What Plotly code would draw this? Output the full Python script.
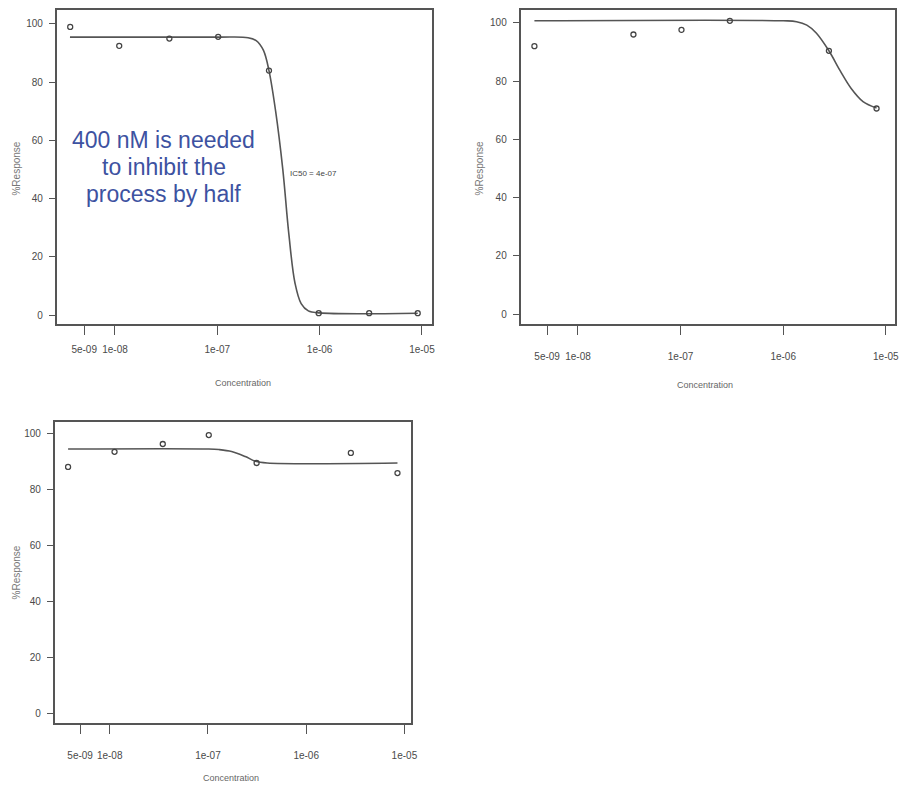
import plotly.graph_objects as go

# page body has an 8px margin; size the figure so the page does not scroll
OFF = 8
FW, FH = 912 - 2 * OFF, 792 - 2 * OFF

# ---- data ----
tick_vals = [5e-9, 1e-8, 1e-7, 1e-6, 1e-5]
tick_text = ["5e-09", "1e-08", "1e-07", "1e-06", "1e-05"]
y_ticks = [0, 20, 40, 60, 80, 100]

# panel 1
p1_conc = [3.65e-9, 1.1e-8, 3.4e-8, 1.02e-7, 3.2e-7, 9.8e-7, 3.05e-6, 9.1e-6]
p1_resp = [99, 92.5, 95, 95.6, 84, 0.7, 0.7, 0.7]
p1_curve_conc = [3.63e-9, 1e-7, 2.0e-7, 2.4e-7, 2.82e-7, 3.2e-7, 3.72e-7, 4.37e-7,
                 5.0e-7, 5.75e-7, 6.6e-7, 7.76e-7, 1e-6, 9.1e-6]
p1_curve_resp = [95.5, 95.5, 95.3, 94.3, 91, 84, 70, 50, 28, 11, 4, 1.5, 0.8, 0.7]

# panel 2
p2_conc = [3.76e-9, 3.47e-8, 1.02e-7, 3.02e-7, 2.79e-6, 8.13e-6]
p2_resp = [92, 96, 97.6, 100.7, 90.4, 70.6]
p2_curve_conc = [3.76e-9, 1e-6, 1.35e-6, 1.7e-6, 2.1e-6, 2.79e-6,
                 3.6e-6, 4.6e-6, 6.0e-6, 8.13e-6]
p2_curve_resp = [100.7, 100.7, 100.4, 99.2, 96.5, 90.4, 83.5, 77.5, 73.0, 70.8]

# panel 3
p3_conc = [3.77e-9, 1.12e-8, 3.47e-8, 1.02e-7, 3.13e-7, 2.85e-6, 8.5e-6]
p3_resp = [88.2, 93.6, 96.4, 99.6, 89.6, 93.2, 86]
p3_curve_conc = [3.77e-9, 1.02e-7, 1.29e-7, 1.74e-7, 2.4e-7, 3.05e-7, 4.0e-7, 8.5e-6]
p3_curve_resp = [94.6, 94.6, 94.4, 93.7, 91.9, 90.2, 89.6, 89.6]

x_title = "Concentration"
y_title = "%Response"
note_lines = ["400 nM is needed", "to inhibit the", "process by half"]
ic50_text = "IC50 = 4e-07"


def px(xp):
    return (xp - OFF) / FW


def py(yp):
    return min(1.0, max(0.0, 1 - (yp - OFF) / FH))


# ---- layout geometry (page pixels) ----
panels = [
    dict(box=(57, 435, 7, 323), xr=(-8.57, -4.90), yr=(-3.07, 104.8),
         pts=(p1_conc, p1_resp), cur=(p1_curve_conc, p1_curve_resp),
         xt=(245, 382), yt=(17, 167), stand=6),
    dict(box=(524, 901, 7, 323), xr=(-8.56, -4.91), yr=(-3.4, 104.4),
         pts=(p2_conc, p2_resp), cur=(p2_curve_conc, p2_curve_resp),
         xt=(710, 384), yt=(483, 167), stand=13),
    dict(box=(55, 414, 421, 723), xr=(-8.56, -4.93), yr=(-3.6, 104.3),
         pts=(p3_conc, p3_resp), cur=(p3_curve_conc, p3_curve_resp),
         xt=(233, 778), yt=(17, 572), stand=13),
]

fig = go.Figure()
line_col = "#555555"
text_col = "#4a4a4a"
annotations = []

for i, p in enumerate(panels, start=1):
    sfx = "" if i == 1 else str(i)
    x0, x1, y0, y1 = p["box"]
    xa = dict(domain=[px(x0), px(x1)], type="log", range=list(p["xr"]),
              tickvals=tick_vals, ticktext=tick_text, ticks="outside",
              ticklen=9, tickwidth=1.3, tickcolor=line_col,
              showline=True, linewidth=1.6, linecolor=line_col, mirror=True,
              showgrid=False, zeroline=False, anchor="y" + sfx,
              tickfont=dict(size=10, color=text_col, family="Liberation Sans"),
              ticklabelstandoff=p["stand"])
    ya = dict(domain=[py(y1), py(y0)], range=list(p["yr"]),
              tickvals=y_ticks, ticks="outside", ticklen=6, tickwidth=1.3,
              tickcolor=line_col, showline=True, linewidth=1.6,
              linecolor=line_col, mirror=True, showgrid=False, zeroline=False,
              anchor="x" + sfx,
              tickfont=dict(size=10, color=text_col, family="Liberation Sans"),
              ticklabelstandoff=4)
    fig.update_layout(**{"xaxis" + sfx: xa, "yaxis" + sfx: ya})

    fig.add_trace(go.Scatter(x=p["cur"][0], y=p["cur"][1], mode="lines",
                             line=dict(color=line_col, width=1.6, shape="spline",
                                       smoothing=1.0),
                             xaxis="x" + sfx, yaxis="y" + sfx, showlegend=False))
    fig.add_trace(go.Scatter(x=p["pts"][0], y=p["pts"][1], mode="markers",
                             marker=dict(symbol="circle-open", size=5,
                                         color="#444444", line=dict(width=1.3)),
                             xaxis="x" + sfx, yaxis="y" + sfx, showlegend=False))

    annotations.append(dict(text=x_title, x=px(p["xt"][0]), y=py(p["xt"][1]),
                            xref="paper", yref="paper", showarrow=False,
                            xanchor="center", yanchor="middle",
                            font=dict(size=9, color="#666666",
                                      family="Liberation Sans")))
    annotations.append(dict(text=y_title, x=px(p["yt"][0]), y=py(p["yt"][1]),
                            xref="paper", yref="paper", showarrow=False,
                            xanchor="center", yanchor="middle",
                            textangle=-90,
                            font=dict(size=10, color="#777777",
                                      family="Liberation Sans")))

for k, line in enumerate(note_lines):
    annotations.append(dict(text=line, x=px(165), y=py(138 + 27 * k),
                            xref="paper", yref="paper", showarrow=False,
                            xanchor="center", yanchor="middle",
                            font=dict(size=23, color="#3d52a1",
                                      family="Liberation Sans")))
annotations.append(dict(text=ic50_text, x=px(290), y=py(172),
                        xref="paper", yref="paper", showarrow=False,
                        xanchor="left", yanchor="middle",
                        font=dict(size=8, color="#444444",
                                  family="Liberation Sans")))

fig.update_layout(width=FW, height=FH, margin=dict(l=0, r=0, t=0, b=0),
                  paper_bgcolor="white", plot_bgcolor="white",
                  annotations=annotations, showlegend=False)

fig.write_html("out.html")
